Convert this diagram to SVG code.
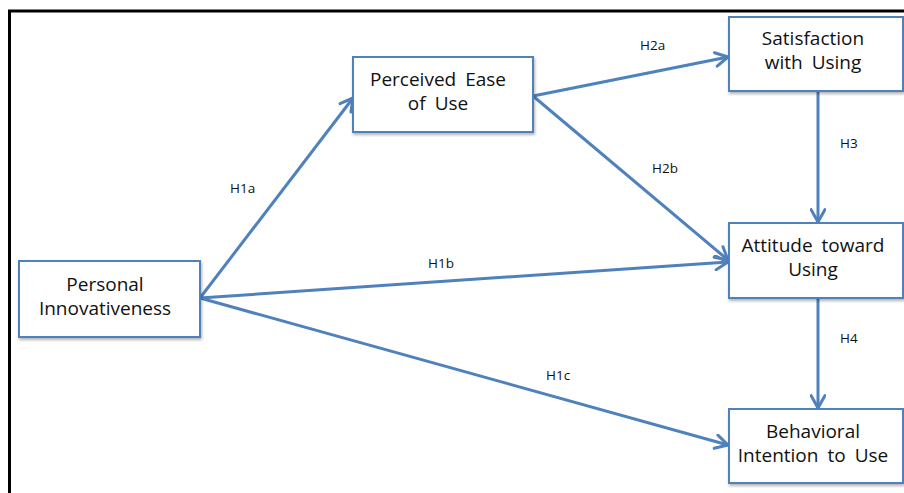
<svg xmlns="http://www.w3.org/2000/svg" width="904" height="493" viewBox="0 0 904 493">
<style>
.node rect{fill:#fff;stroke:#4F81BD;stroke-width:2;filter:url(#sh)}
.node text{font-family:"Open Sans","Lato","Liberation Sans",sans-serif;font-size:19px;fill:#111;text-anchor:middle}
.lbl{font-family:"Open Sans","Lato","Liberation Sans",sans-serif;font-size:13.5px;fill:#111}
.edge{fill:none;stroke:#4F81BD;stroke-width:3;marker-end:url(#ah)}
</style>
<defs>
<marker id="ah" viewBox="0 0 12 12" refX="11" refY="6" markerWidth="5.5" markerHeight="5.5" orient="auto" markerUnits="strokeWidth">
<path d="M2,1 L11,6 L2,11" fill="none" stroke="#4F81BD" stroke-width="2.2" stroke-linecap="round" stroke-linejoin="round"/>
</marker>
<filter id="sh" x="-10%" y="-10%" width="130%" height="130%">
<feGaussianBlur in="SourceAlpha" stdDeviation="1.5"/>
<feOffset dx="1" dy="2" result="b"/>
<feComponentTransfer><feFuncA type="linear" slope="0.3"/></feComponentTransfer>
<feMerge><feMergeNode/><feMergeNode in="SourceGraphic"/></feMerge>
</filter>
</defs>
<rect x="9.5" y="11" width="920" height="500" fill="none" stroke="#000" stroke-width="3"/>
<g id="connectors">
<path class="edge" d="M200,298 L353,98"/>
<path class="edge" d="M200,298 L728,262"/>
<path class="edge" d="M200,298 L728,445"/>
<path class="edge" d="M533,96 L728,57"/>
<path class="edge" d="M533,96 L728,260"/>
<path class="edge" d="M818,92 L818,222"/>
<path class="edge" d="M818,299 L818,408"/>
<text class="lbl" x="230" y="193">H1a</text>
<text class="lbl" x="428" y="268">H1b</text>
<text class="lbl" x="546" y="380">H1c</text>
<text class="lbl" x="640" y="50">H2a</text>
<text class="lbl" x="652" y="173">H2b</text>
<text class="lbl" x="840" y="148">H3</text>
<text class="lbl" x="840" y="343">H4</text>
</g>
<g id="n-personal" class="node"><rect x="19" y="261" width="181" height="76"/><text x="105" y="291">Personal</text><text x="105" y="315">Innovativeness</text></g>
<g id="n-peou" class="node"><rect x="353" y="57" width="180" height="75"/><text x="438" y="86">Perceived<tspan dx="9">Ease</tspan></text><text x="438" y="110">of<tspan dx="9">Use</tspan></text></g>
<g id="n-sat" class="node"><rect x="729" y="17" width="174" height="74"/><text x="813" y="45">Satisfaction</text><text x="813" y="69">with<tspan dx="9">Using</tspan></text></g>
<g id="n-att" class="node"><rect x="729" y="223" width="174" height="75"/><text x="813" y="252">Attitude<tspan dx="9">toward</tspan></text><text x="813" y="276">Using</text></g>
<g id="n-bi" class="node"><rect x="729" y="409" width="174" height="74"/><text x="813" y="438">Behavioral</text><text x="813" y="462">Intention<tspan dx="9">to</tspan><tspan dx="9">Use</tspan></text></g>
</svg>
